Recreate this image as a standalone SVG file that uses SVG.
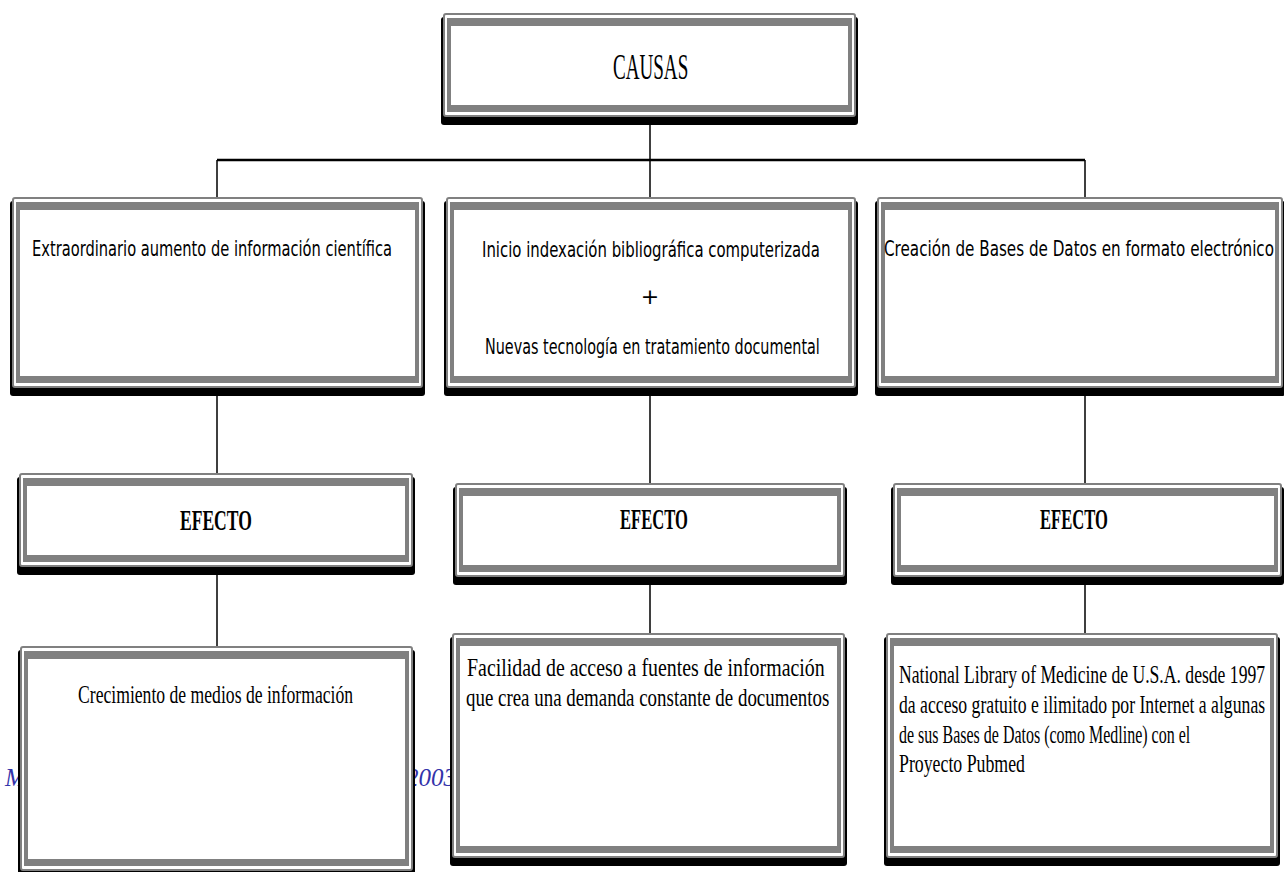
<svg xmlns="http://www.w3.org/2000/svg" width="1284" height="872" viewBox="0 0 1284 872">
<style>
.sh{fill:#000}
.ol{fill:#fff;stroke:#808080;stroke-width:2}
.bd{fill:#808080}
.in{fill:#fff}
.cn{fill:none;stroke:#000;stroke-width:1.5}
.hz{fill:none;stroke:#000;stroke-width:2.5}
.tt{font-family:"Liberation Serif","Times New Roman",serif;font-size:36px;fill:#000}
.cm{font-family:"DejaVu Sans","Noto Sans",sans-serif;font-size:22px;fill:#000}
.ef{font-family:"Liberation Serif","Times New Roman",serif;font-weight:bold;font-size:30px;fill:#000}
.bt{font-family:"Liberation Serif","Times New Roman",serif;font-size:25px;fill:#000}
.wm{font-family:"Liberation Serif","Times New Roman",serif;font-style:italic;font-size:25px;fill:#3333aa}
</style>
<rect width="1284" height="872" fill="#fff"/>
<g id="watermark">
<text class="wm" x="5" y="786">M</text>
<text class="wm" x="406" y="786">2003</text>
</g>
<g id="connectors">
<path class="cn" d="M650 125V160"/>
<path class="hz" d="M217 160H1085"/>
<path class="cn" d="M217 160V197M650 160V197M1085 160V197"/>
<path class="cn" d="M217 396V473M650 396V483M1085 396V483"/>
<path class="cn" d="M217 575V646M650 585V633M1085 585V633"/>
</g>
<g id="causas">
<rect class="sh" x="441" y="17" width="417" height="108" rx="3"/>
<rect class="ol" x="444" y="14" width="411" height="102" rx="2"/>
<rect class="bd" x="447" y="18" width="405" height="94"/>
<rect class="in" x="451" y="26" width="397" height="79"/>
<text class="tt" transform="translate(613 79) scale(0.53 1)" textLength="142" lengthAdjust="spacingAndGlyphs">CAUSAS</text>
</g>
<g id="causa1">
<rect class="sh" x="10" y="201" width="415" height="195" rx="3"/>
<rect class="ol" x="13" y="198" width="409" height="189" rx="2"/>
<rect class="bd" x="16" y="202" width="403" height="181"/>
<rect class="in" x="20" y="210" width="395" height="166"/>
<text class="cm" transform="translate(32 256) scale(0.6 1)" textLength="600" lengthAdjust="spacingAndGlyphs">Extraordinario aumento de información científica</text>
</g>
<g id="causa2">
<rect class="sh" x="444" y="201" width="414" height="195" rx="3"/>
<rect class="ol" x="447" y="198" width="408" height="189" rx="2"/>
<rect class="bd" x="450" y="202" width="402" height="181"/>
<rect class="in" x="454" y="210" width="394" height="166"/>
<text class="cm" transform="translate(482 257) scale(0.6 1)" textLength="563" lengthAdjust="spacingAndGlyphs">Inicio indexación bibliográfica computerizada</text>
<text class="cm" x="650" y="304" text-anchor="middle">+</text>
<text class="cm" transform="translate(485 354) scale(0.6 1)" textLength="558" lengthAdjust="spacingAndGlyphs">Nuevas tecnología en tratamiento documental</text>
</g>
<g id="causa3">
<rect class="sh" x="875" y="201" width="410" height="195" rx="3"/>
<rect class="ol" x="878" y="198" width="404" height="189" rx="2"/>
<rect class="bd" x="881" y="202" width="398" height="181"/>
<rect class="in" x="885" y="210" width="390" height="166"/>
<text class="cm" transform="translate(884 256) scale(0.6 1)" textLength="650" lengthAdjust="spacingAndGlyphs">Creación de Bases de Datos en formato electrónico</text>
</g>
<g id="efecto1">
<rect class="sh" x="17" y="477" width="398" height="98" rx="3"/>
<rect class="ol" x="20" y="474" width="392" height="92" rx="2"/>
<rect class="bd" x="23" y="478" width="386" height="84"/>
<rect class="in" x="27" y="486" width="378" height="69"/>
<text class="ef" transform="translate(180 530) scale(0.57 1)" textLength="126" lengthAdjust="spacingAndGlyphs">EFECTO</text>
</g>
<g id="efecto2">
<rect class="sh" x="453" y="487" width="394" height="98" rx="3"/>
<rect class="ol" x="456" y="484" width="388" height="92" rx="2"/>
<rect class="bd" x="459" y="488" width="382" height="84"/>
<rect class="in" x="463" y="496" width="374" height="69"/>
<text class="ef" transform="translate(620 529) scale(0.57 1)" textLength="119" lengthAdjust="spacingAndGlyphs">EFECTO</text>
</g>
<g id="efecto3">
<rect class="sh" x="891" y="487" width="393" height="98" rx="3"/>
<rect class="ol" x="894" y="484" width="387" height="92" rx="2"/>
<rect class="bd" x="897" y="488" width="381" height="84"/>
<rect class="in" x="901" y="496" width="373" height="69"/>
<text class="ef" transform="translate(1040 529) scale(0.57 1)" textLength="119" lengthAdjust="spacingAndGlyphs">EFECTO</text>
</g>
<g id="resultado1">
<rect class="sh" x="18" y="650" width="397" height="229" rx="3"/>
<rect class="ol" x="21" y="647" width="391" height="223" rx="2"/>
<rect class="bd" x="24" y="651" width="385" height="215"/>
<rect class="in" x="28" y="659" width="377" height="200"/>
<text class="bt" transform="translate(78 703) scale(0.7 1)" textLength="393" lengthAdjust="spacingAndGlyphs">Crecimiento de medios de información</text>
</g>
<g id="resultado2">
<rect class="sh" x="450" y="637" width="397" height="229" rx="3"/>
<rect class="ol" x="453" y="634" width="391" height="223" rx="2"/>
<rect class="bd" x="456" y="638" width="385" height="215"/>
<rect class="in" x="460" y="646" width="377" height="200"/>
<text class="bt" transform="translate(467 676) scale(0.7 1)" textLength="511" lengthAdjust="spacingAndGlyphs">Facilidad de acceso a fuentes de información</text>
<text class="bt" transform="translate(466 706) scale(0.7 1)" textLength="519" lengthAdjust="spacingAndGlyphs">que crea una demanda constante de documentos</text>
</g>
<g id="resultado3">
<rect class="sh" x="884" y="637" width="396" height="229" rx="3"/>
<rect class="ol" x="887" y="634" width="390" height="223" rx="2"/>
<rect class="bd" x="890" y="638" width="384" height="215"/>
<rect class="in" x="894" y="646" width="376" height="200"/>
<text class="bt" transform="translate(899 683) scale(0.7 1)" textLength="523" lengthAdjust="spacingAndGlyphs">National Library of Medicine de U.S.A. desde 1997</text>
<text class="bt" transform="translate(899 713) scale(0.7 1)" textLength="523" lengthAdjust="spacingAndGlyphs">da acceso gratuito e ilimitado por Internet a algunas</text>
<text class="bt" transform="translate(899 743) scale(0.7 1)" textLength="416" lengthAdjust="spacingAndGlyphs">de sus Bases de Datos (como Medline) con el</text>
<text class="bt" transform="translate(899 772) scale(0.7 1)" textLength="180" lengthAdjust="spacingAndGlyphs">Proyecto Pubmed</text>
</g>
</svg>
